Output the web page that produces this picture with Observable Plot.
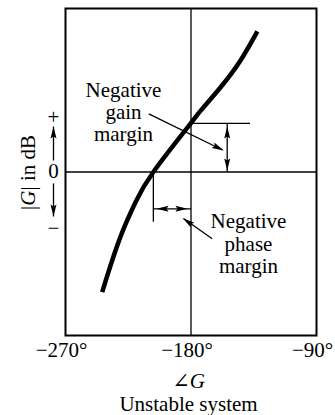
<!DOCTYPE html>
<html><head><meta charset="utf-8">
<script src="https://cdn.jsdelivr.net/npm/d3@7"></script>
<script src="https://cdn.jsdelivr.net/npm/@observablehq/plot@0.6"></script>
<style>
html,body{margin:0;padding:0;background:#fff;}
</style></head><body><div id="chart"></div>
<script>
// Nichols-type plot: |G| in dB vs phase of G (unstable system)
const phaseDeg = [-243.7, -237.7, -229.3, -219.8, -207, -181.6, -173.2, -158.9, -144.5, -132.4];
const magDb    = [-7.35, -5.72, -3.68, -1.85, 0, 2.82, 3.74, 5.17, 6.82, 8.6];
const xTicks = [-270, -180, -90];
const xTickLabels = ["−270°", "−180°", "−90°"];
const criticalPhase = -180;        // vertical reference line
const gainCrossPhase = -207;       // phase where |G| = 0 dB
const gainAtCritical = 2.98;       // |G| (dB) at -180°
const gainLabel = "Negative\ngain\nmargin";
const phaseLabel = "Negative\nphase\nmargin";
const yAxisLabel = "|G| in dB";
const xAxisLabel = "∠G";
const caption = "Unstable system";

const W = 335, H = 415, mL = 65, mR = 19, mT = 8, mB = 80;
const xDomain = [-270, -90], yDomain = [-10, 10];
const sx = Plot.scale({x: {domain: xDomain, range: [mL, W - mR]}});
const sy = Plot.scale({y: {domain: yDomain, range: [H - mB, mT]}});
const xAt = px => sx.invert(px);
const yAt = py => sy.invert(py);

const curve = phaseDeg.map((p, i) => ({p, m: magDb[i]}));

// arrow shafts (data coordinates)
const gmX = xAt(226.7);
const pmY = yAt(208.3);
const colX = xAt(53);
const shafts = [
  {x1: gmX, y1: 0, x2: gmX, y2: gainAtCritical},
  {x1: gainCrossPhase, y1: pmY, x2: criticalPhase, y2: pmY},
  {x1: xAt(148.3), y1: yAt(113.3), x2: xAt(222), y2: yAt(149.5)},
  {x1: xAt(211.7), y1: yAt(238.3), x2: xAt(183), y2: yAt(218)},
  {x1: colX, y1: yAt(160), x2: colX, y2: yAt(126)},
  {x1: colX, y1: yAt(183), x2: colX, y2: yAt(216)}
];
// arrow heads: tip position and pointing direction (from -> tip)
function head(fx, fy, tx, ty) {
  const dx = sx.apply(tx) - sx.apply(fx), dy = sy.apply(ty) - sy.apply(fy);
  return {x: tx, y: ty, angle: Math.atan2(dx, -dy) * 180 / Math.PI};
}
const heads = [
  head(gmX, 1.5, gmX, yAt(126)),
  head(gmX, 1.5, gmX, yAt(170)),
  head(-193, pmY, xAt(156), pmY),
  head(-193, pmY, xAt(187), pmY),
  head(xAt(148.3), yAt(113.3), xAt(223.3), yAt(150)),
  head(xAt(211.7), yAt(238.3), xAt(182.3), yAt(217.7)),
  head(colX, 0, colX, yAt(126)),
  head(colX, 0, colX, yAt(216))
];
const arrowHead = {draw(ctx) { ctx.moveTo(0, 0); ctx.lineTo(3, 12); ctx.lineTo(0, 10); ctx.lineTo(-3, 12); ctx.closePath(); }};

const ticks = xTicks.map((v, i) => ({v, t: xTickLabels[i]}));

const plot = Plot.plot({
  width: W, height: H,
  marginLeft: mL, marginRight: mR, marginTop: mT, marginBottom: mB,
  x: {domain: xDomain, axis: null},
  y: {domain: yDomain, axis: null},
  style: {fontFamily: "'Liberation Serif', 'DejaVu Serif', serif", fontSize: "21px", background: "#fff", color: "#000"},
  marks: [
    Plot.ruleX([criticalPhase], {stroke: "#000", strokeWidth: 1.3}),
    Plot.ruleY([0], {stroke: "#000", strokeWidth: 1.3}),
    Plot.frame({stroke: "#000", strokeWidth: 2}),
    // gain margin bracket
    Plot.ruleY([gainAtCritical], {x1: criticalPhase, x2: xAt(250), stroke: "#000", strokeWidth: 1.3}),
    // phase margin bracket
    Plot.ruleX([gainCrossPhase], {y1: 0, y2: yAt(221.7), stroke: "#000", strokeWidth: 1.3}),
    Plot.link(shafts, {x1: "x1", y1: "y1", x2: "x2", y2: "y2", stroke: "#000", strokeWidth: 1.3}),
    Plot.dot(heads, {x: "x", y: "y", rotate: "angle", symbol: arrowHead, fill: "#000", stroke: "none", r: 3}),
    Plot.line(curve, {x: "p", y: "m", curve: "natural", stroke: "#000", strokeWidth: 4.5, strokeLinecap: "butt"}),
    // annotations
    Plot.text([gainLabel], {x: xAt(123), y: yAt(111), text: d => d, fontSize: 21, lineHeight: 1.05, fill: "#000"}),
    Plot.text([phaseLabel], {x: xAt(248), y: yAt(243), text: d => d, fontSize: 21, lineHeight: 1.08, fill: "#000"}),
    // tick labels
    Plot.text(ticks, {x: "v", y: yDomain[0], text: "t", dy: 15, dx: -4, fontSize: 21, fill: "#000"}),
    Plot.text([xAxisLabel], {x: xAt(188), y: yDomain[0], text: d => d, dy: 46, fontSize: 21, fill: "#000", fontStyle: "italic"}),
    Plot.text([caption], {x: xAt(188), y: yDomain[0], text: d => d, dy: 69, fontSize: 21, fill: "#000"}),
    // y label column
    Plot.text([yAxisLabel], {x: xAt(28), y: yAt(172), text: d => d, rotate: -90, fontSize: 21, fill: "#000"}),
    Plot.text(["+", "0", "−"], {x: colX, y: (d, i) => yAt([117, 171, 228][i]), text: d => d, fontSize: 21, fill: "#000"})
  ]
});

// italic G in the y label
d3.select(plot).selectAll("text").filter(function () { return this.textContent === yAxisLabel; })
  .each(function () {
    const t = d3.select(this); t.text(null);
    t.append("tspan").text("|");
    t.append("tspan").attr("font-style", "italic").text("G");
    t.append("tspan").text("| in dB");
  });
document.getElementById("chart").appendChild(plot);
</script></body></html>
